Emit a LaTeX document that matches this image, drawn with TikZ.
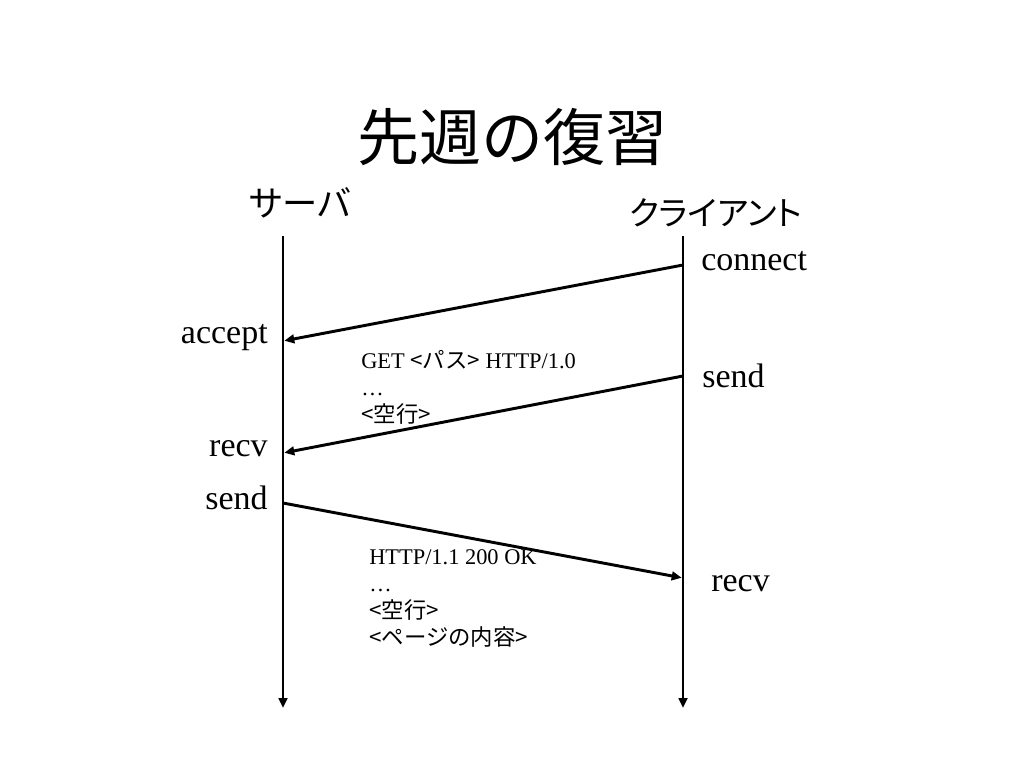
\documentclass[tikz,border=0pt]{standalone}
\usepackage{fontspec}
\setmainfont{Liberation Serif}
\newfontfamily\cjk{Noto Sans CJK JP}
\newfontfamily\cjkp[RawFeature=+palt]{Noto Sans CJK JP}
\usetikzlibrary{arrows.meta}
\begin{document}
\begin{tikzpicture}[x=0.75pt,y=-0.75pt,
  life/.style={line width=2.2pt,-{Triangle[length=7.5pt,width=6.5pt]}},
  msg/.style={line width=2.2pt,-{Triangle[length=7.5pt,width=6.5pt]},shorten >=1pt},
  lbl/.style={font=\fontsize{25.5}{28}\selectfont,inner sep=0pt},
  body/.style={font=\fontsize{16.8}{20.4}\selectfont,align=left,inner sep=0pt,anchor=north west},
  head/.style={font=\cjkp\fontsize{25}{28}\selectfont,inner sep=0pt}]
\useasboundingbox (0,0) rectangle (1024,768);
\fill[white] (0,0) rectangle (1024,768);
\node[font=\cjk\fontsize{46.5}{50}\selectfont,inner sep=0pt] (title) at (512,137) {先週の復習};
\node[head,font=\cjkp\fontsize{26.5}{28}\selectfont] (srv) at (300,203) {サーバ};
\node[head] (cli) at (716,213) {クライアント};
\coordinate (s0) at (283,236);
\coordinate (s1) at (283,708);
\coordinate (c0) at (683,236);
\coordinate (c1) at (683,708);
\draw[life] (s0) -- (s1);
\draw[life] (c0) -- (c1);
\coordinate (a1) at (683,265);
\coordinate (b1) at (283,341);
\coordinate (a2) at (683,376);
\coordinate (b2) at (283,453);
\coordinate (a3) at (283,503);
\coordinate (b3) at (683,578);
\draw[msg] (a1) -- (b1);
\draw[msg] (a2) -- (b2);
\draw[msg] (a3) -- (b3);
\node[lbl,anchor=west] (connect) at (701,261) {connect};
\node[lbl,anchor=east] (accept) at (268,338) {accept};
\node[lbl,anchor=west] (sendc) at (702,376) {send};
\node[lbl,anchor=east] (recvs) at (268,449) {recv};
\node[lbl,anchor=east] (sends) at (268,498) {send};
\node[lbl,anchor=west] (recvc) at (711,584) {recv};
\node[body] (req) at (361,350) {GET {\cjk <パス>} HTTP/1.0\\…\\{\cjk <空行>}};
\node[body] (res) at (369,549) {HTTP/1.1 200 OK\\…\\{\cjk <空行>}\\{\cjk <ページの内容>}};
\end{tikzpicture}
\end{document}
